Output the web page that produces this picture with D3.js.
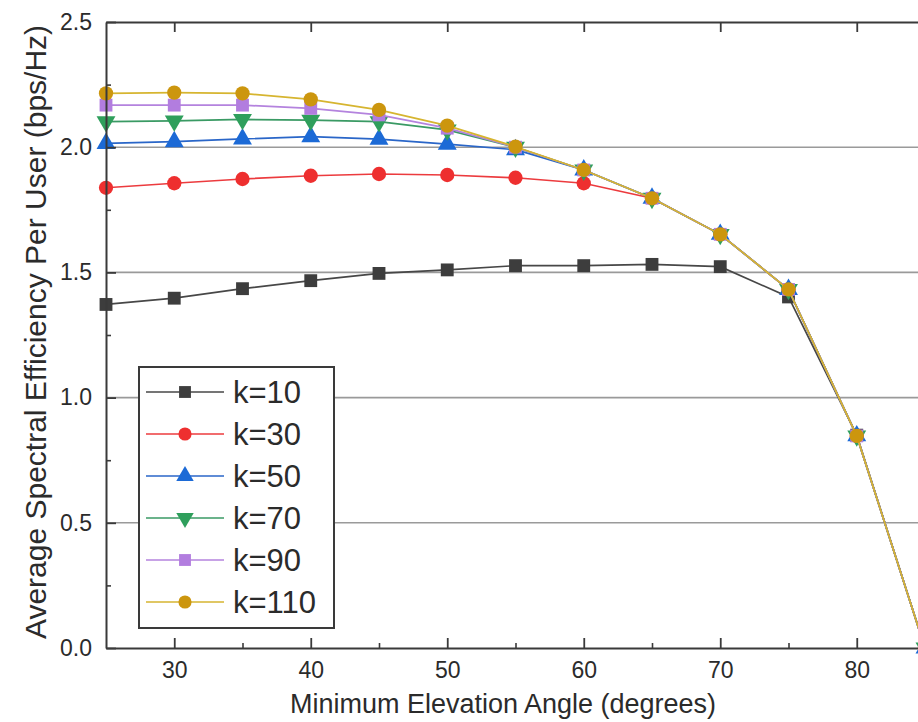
<!DOCTYPE html>
<html>
<head>
<meta charset="utf-8">
<script src="https://cdn.jsdelivr.net/npm/d3@7"></script>
<style>
  html, body { margin: 0; padding: 0; background: #fff; }
  svg { display: block; font-family: "Liberation Sans", Arial, sans-serif; }
</style>
</head>
<body>
<svg id="chart" width="918" height="722"></svg>
<script>
// Minimum elevation angle (degrees)
const angles = [25, 30, 35, 40, 45, 50, 55, 60, 65, 70, 75, 80, 85];

// Average spectral efficiency per user (bps/Hz) for each k
const k10  = [1.372, 1.397, 1.435, 1.467, 1.496, 1.510, 1.527, 1.527, 1.532, 1.523, 1.402, 0.850, 0.0];
const k30  = [1.838, 1.856, 1.873, 1.886, 1.893, 1.889, 1.878, 1.856, 1.796, 1.652, 1.432, 0.847, 0.0];
const k50  = [2.015, 2.022, 2.033, 2.042, 2.032, 2.012, 1.990, 1.909, 1.796, 1.652, 1.432, 0.847, 0.0];
const k70  = [2.102, 2.105, 2.111, 2.108, 2.102, 2.069, 2.000, 1.909, 1.796, 1.652, 1.432, 0.847, 0.0];
const k90  = [2.168, 2.168, 2.168, 2.155, 2.129, 2.076, 2.000, 1.909, 1.796, 1.652, 1.432, 0.847, 0.0];
const k110 = [2.215, 2.218, 2.215, 2.191, 2.149, 2.086, 2.002, 1.909, 1.796, 1.652, 1.432, 0.847, 0.0];

const seriesNames = ["k=10", "k=30", "k=50", "k=70", "k=90", "k=110"];
const seriesValues = [k10, k30, k50, k70, k90, k110];
const markerColors = ["#3d3d3d", "#ee2f2f", "#1c6ad6", "#2f9f5c", "#b27ddf", "#cc960e"];
const lineColors   = ["#474747", "#ec3b3e", "#2a66c8", "#3a9a64", "#b483de", "#d6b530"];
const markerShapes = ["square", "circle", "triangle", "triangleDown", "square", "circle"];

const xTicks = [30, 40, 50, 60, 70, 80];
const xMinorTicks = [35, 45, 55, 65, 75];
const yTicks = [0.0, 0.5, 1.0, 1.5, 2.0, 2.5];
const yMinorTicks = [0.25, 0.75, 1.25, 1.75, 2.25];
const gridValues = [0.5, 1.0, 1.5, 2.0];

const svg = d3.select("#chart");
const plot = { left: 106, right: 925, top: 22, bottom: 648 };
const axisColor = "#3a3a3a";
const textColor = "#2b2b2b";

const x = d3.scaleLinear().domain([25, 85]).range([plot.left, plot.right]);
const y = d3.scaleLinear().domain([0, 2.5]).range([plot.bottom, plot.top]);

// horizontal grid lines
svg.append("g").selectAll("line").data(gridValues).join("line")
  .attr("x1", plot.left).attr("x2", plot.right)
  .attr("y1", d => y(d)).attr("y2", d => y(d))
  .attr("stroke", "#9a9a9a").attr("stroke-width", 1.6);

// marker path generator
function markerPath(shape, size) {
  if (shape === "square") return d3.symbol(d3.symbolSquare, size)();
  if (shape === "circle") return d3.symbol(d3.symbolCircle, size)();
  return d3.symbol(d3.symbolTriangle, size)();
}
function markerTransform(shape, px, py) {
  return shape === "triangleDown"
    ? `translate(${px},${py}) rotate(180)`
    : `translate(${px},${py})`;
}
function markerSize(shape) {
  if (shape === "square") return 165;
  if (shape === "circle") return 160;
  return 155;
}

// series lines and markers
const line = d3.line().x((d, i) => x(angles[i])).y(d => y(d));
seriesValues.forEach((vals, s) => {
  const g = svg.append("g");
  g.append("path").datum(vals)
    .attr("d", line)
    .attr("fill", "none")
    .attr("stroke", lineColors[s])
    .attr("stroke-width", 1.7);
  g.selectAll("path.mk").data(vals).join("path")
    .attr("class", "mk")
    .attr("d", markerPath(markerShapes[s], markerSize(markerShapes[s])))
    .attr("transform", (d, i) => markerTransform(markerShapes[s], x(angles[i]), y(d)))
    .attr("fill", markerColors[s]);
});

// axes frame
const axes = svg.append("g");
const tickFont = 23;
const bottomAxis = d3.axisBottom(x).tickValues(xTicks).tickSizeInner(-10).tickSizeOuter(0).tickPadding(14)
  .tickFormat(d3.format("d"));
axes.append("g").attr("transform", `translate(0,${plot.bottom})`).call(bottomAxis)
  .call(g => g.select(".domain").attr("stroke", axisColor).attr("stroke-width", 2))
  .call(g => g.selectAll(".tick line").attr("stroke", axisColor).attr("stroke-width", 1.8))
  .call(g => g.selectAll(".tick text").attr("font-size", tickFont).attr("fill", textColor)
    .attr("font-family", "Liberation Sans, Arial, sans-serif"));
axes.append("g").attr("transform", `translate(0,${plot.bottom})`)
  .call(d3.axisBottom(x).tickValues(xMinorTicks).tickSizeInner(-5).tickSizeOuter(0).tickFormat(""))
  .call(g => g.select(".domain").remove())
  .call(g => g.selectAll(".tick line").attr("stroke", axisColor).attr("stroke-width", 1.6));

const topAxis = d3.axisTop(x).tickValues(xTicks).tickSizeInner(-10).tickSizeOuter(0).tickFormat("");
axes.append("g").attr("transform", `translate(0,${plot.top})`).call(topAxis)
  .call(g => g.select(".domain").attr("stroke", axisColor).attr("stroke-width", 2))
  .call(g => g.selectAll(".tick line").attr("stroke", axisColor).attr("stroke-width", 1.8));

const leftAxis = d3.axisLeft(y).tickValues(yTicks).tickSizeInner(-10).tickSizeOuter(0).tickPadding(14)
  .tickFormat(d3.format(".1f"));
axes.append("g").attr("transform", `translate(${plot.left},0)`).call(leftAxis)
  .call(g => g.select(".domain").attr("stroke", axisColor).attr("stroke-width", 2))
  .call(g => g.selectAll(".tick line").attr("stroke", axisColor).attr("stroke-width", 1.8))
  .call(g => g.selectAll(".tick text").attr("font-size", tickFont).attr("fill", textColor)
    .attr("font-family", "Liberation Sans, Arial, sans-serif"));
axes.append("g").attr("transform", `translate(${plot.left},0)`)
  .call(d3.axisLeft(y).tickValues(yMinorTicks).tickSizeInner(-5).tickSizeOuter(0).tickFormat(""))
  .call(g => g.select(".domain").remove())
  .call(g => g.selectAll(".tick line").attr("stroke", axisColor).attr("stroke-width", 1.6));

axes.append("line")
  .attr("x1", plot.right).attr("x2", plot.right)
  .attr("y1", plot.top).attr("y2", plot.bottom)
  .attr("stroke", axisColor).attr("stroke-width", 2);

// axis titles
svg.append("text")
  .attr("x", 503).attr("y", 713)
  .attr("text-anchor", "middle")
  .attr("font-size", 27).attr("fill", textColor)
  .text("Minimum Elevation Angle (degrees)");
svg.append("text")
  .attr("transform", "translate(46,332) rotate(-90)")
  .attr("text-anchor", "middle")
  .attr("font-size", 30).attr("fill", textColor)
  .text("Average Spectral Efficiency Per User (bps/Hz)");

// legend
const legend = svg.append("g");
const lg = { left: 139, top: 367, right: 334, bottom: 628, firstRow: 392, rowStep: 42 };
legend.append("rect")
  .attr("x", lg.left).attr("y", lg.top)
  .attr("width", lg.right - lg.left).attr("height", lg.bottom - lg.top)
  .attr("fill", "#fff").attr("stroke", axisColor).attr("stroke-width", 2);
seriesNames.forEach((name, s) => {
  const ry = lg.firstRow + s * lg.rowStep;
  legend.append("line")
    .attr("x1", 146).attr("x2", 224).attr("y1", ry).attr("y2", ry)
    .attr("stroke", lineColors[s]).attr("stroke-width", 1.7);
  legend.append("path")
    .attr("d", markerPath(markerShapes[s], markerSize(markerShapes[s]) * 0.85))
    .attr("transform", markerTransform(markerShapes[s], 185, ry))
    .attr("fill", markerColors[s]);
  legend.append("text")
    .attr("x", 233).attr("y", ry + 11)
    .attr("font-size", 31).attr("fill", textColor)
    .text(name);
});
</script>
</body>
</html>
